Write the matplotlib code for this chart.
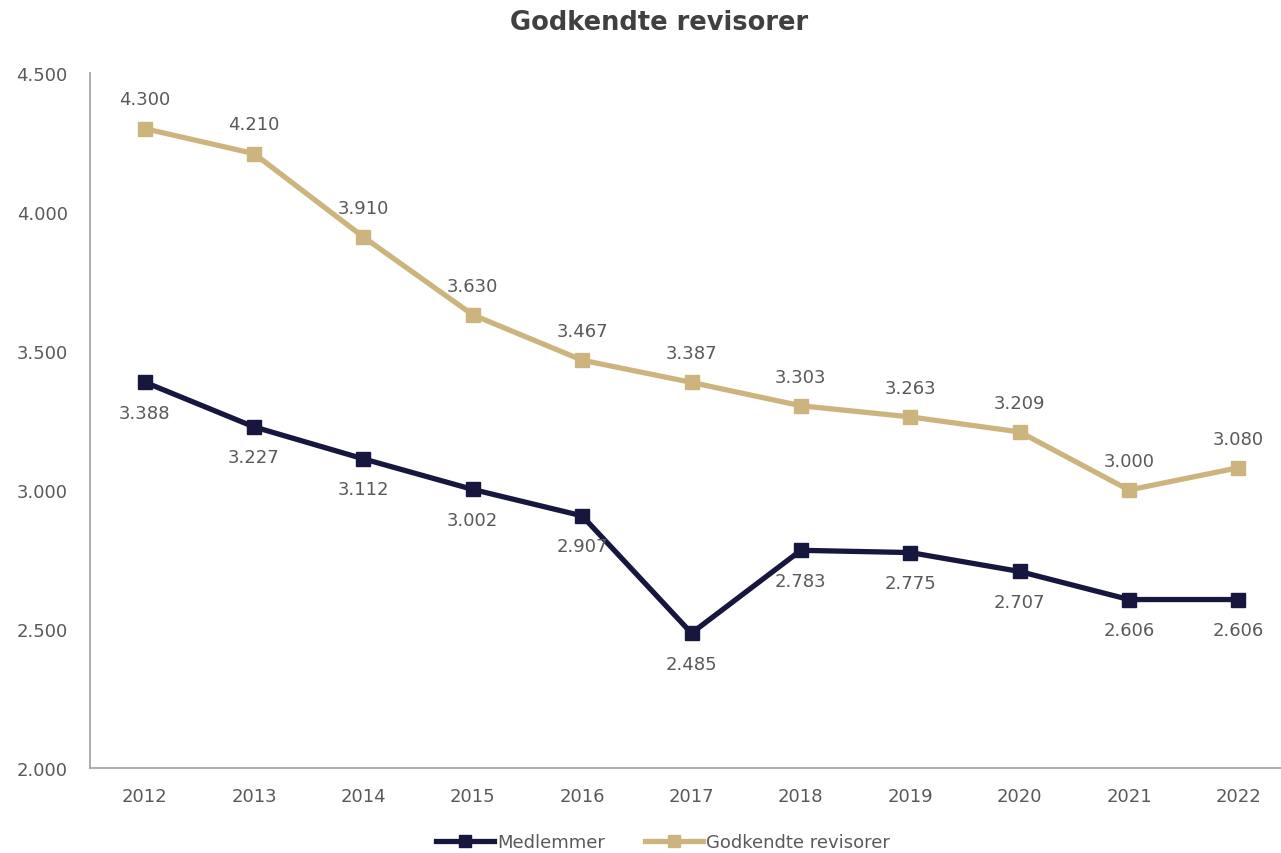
import matplotlib
matplotlib.use("Agg")
import matplotlib.pyplot as plt
from matplotlib.ticker import FuncFormatter

years = ["2012", "2013", "2014", "2015", "2016", "2017", "2018", "2019", "2020", "2021", "2022"]
medlemmer = [3388, 3227, 3112, 3002, 2907, 2485, 2783, 2775, 2707, 2606, 2606]
godkendte = [4300, 4210, 3910, 3630, 3467, 3387, 3303, 3263, 3209, 3000, 3080]

NAVY = "#16163F"
TAN = "#CDB47E"
TXT = "#595959"
FS = 13

plt.rcParams['font.family'] = ['DejaVu Sans']

def fmt(v):
    return f"{v:,.0f}".replace(",", ".")

fig = plt.figure(figsize=(12.81, 8.54), dpi=100)
W, H = 1281, 854
ax = fig.add_axes([90 / W, (H - 769) / H, 1203 / W, (769 - 74) / H])
x = list(range(len(years)))

ax.plot(x, medlemmer, color=NAVY, lw=3.8, marker="s", ms=10, label="Medlemmer", solid_joinstyle="round")
ax.plot(x, godkendte, color=TAN, lw=3.8, marker="s", ms=10, label="Godkendte revisorer", solid_joinstyle="round")

for xi, v in zip(x, medlemmer):
    ax.annotate(fmt(v), (xi, v), xytext=(0, -22), textcoords="offset points",
                ha="center", va="center", fontsize=FS, color=TXT)
for xi, v in zip(x, godkendte):
    ax.annotate(fmt(v), (xi, v), xytext=(0, 21), textcoords="offset points",
                ha="center", va="center", fontsize=FS, color=TXT)

ax.set_xlim(-0.5, len(years) - 0.5)
ax.set_ylim(2000, 4500)
ax.set_yticks([2000, 2500, 3000, 3500, 4000, 4500])
ax.yaxis.set_major_formatter(FuncFormatter(lambda v, p: fmt(v)))
ax.set_xticks(x)
ax.set_xticklabels(years)
ax.tick_params(axis="both", length=0, labelsize=FS, labelcolor=TXT)
ax.tick_params(axis="y", pad=16)
ax.tick_params(axis="x", pad=14)
for s in ["top", "right"]:
    ax.spines[s].set_visible(False)
for s in ["left", "bottom"]:
    ax.spines[s].set_color("#A6A6A6")
    ax.spines[s].set_linewidth(1.3)

fig.text(659 / W, 1 - 23 / H, "Godkendte revisorer", ha="center", va="center",
         fontsize=18.5, fontweight="bold", color="#404040")

fig.legend(loc="center", bbox_to_anchor=(663 / W, 1 - 843 / H), ncol=2, frameon=False,
           fontsize=FS, labelcolor=TXT, handlelength=3.2, handletextpad=0.2, columnspacing=2.2,
           markerscale=0.8)

fig.savefig("out.png", dpi=100)
